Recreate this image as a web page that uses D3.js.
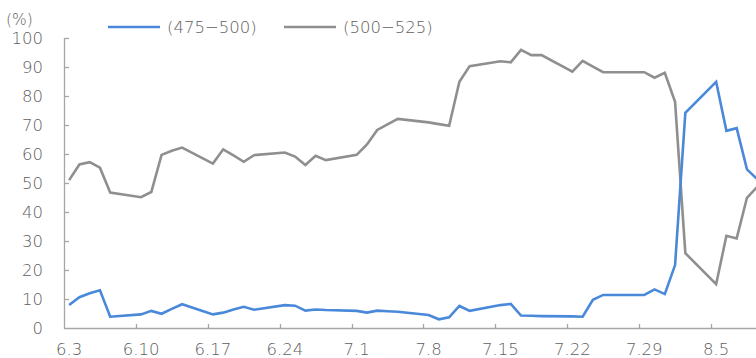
<!DOCTYPE html>
<html>
<head>
<meta charset="utf-8">
<script src="https://cdn.jsdelivr.net/npm/d3@7"></script>
<style>
html,body{margin:0;padding:0;background:#fff;}
svg{display:block;}
text{font-family:"DejaVu Sans",sans-serif;fill:#5e5e5e;font-weight:300;}
</style>
</head>
<body>
<svg id="chart" width="756" height="358"></svg>
<script>
const dates = ["6.3","6.4","6.5","6.6","6.7","6.10","6.11","6.12","6.13","6.14","6.17","6.18","6.19","6.20","6.21","6.24","6.25","6.26","6.27","6.28","7.1","7.2","7.3","7.4","7.5","7.8","7.9","7.10","7.11","7.12","7.15","7.16","7.17","7.18","7.19","7.22","7.23","7.24","7.25","7.26","7.29","7.30","7.31","8.1","8.2","8.5","8.6","8.7","8.8","8.9"];
const seriesA = [7.9,10.6,12.0,13.0,3.9, 4.7,5.9,4.9,6.6,8.2, 4.7,5.3,6.4,7.3,6.3, 7.9,7.7,6.0,6.4,6.2, 5.9,5.3,6.0,5.8,5.6, 4.5,3.0,3.7,7.6,5.9, 7.9,8.3,4.3,4.2,4.1, 4.0,3.9,9.7,11.4,11.4, 11.4,13.3,11.7,21.7,74.2, 84.9,68.0,68.9,54.7,51.3];
const seriesB = [51.0,56.4,57.2,55.3,46.7, 45.1,46.9,59.7,61.1,62.2, 56.7,61.6,59.5,57.3,59.6, 60.5,59.1,56.2,59.4,57.9, 59.7,63.3,68.3,70.2,72.1, 70.9,70.3,69.7,84.9,90.3, 92.0,91.6,95.9,94.1,94.1, 88.4,92.1,90.1,88.2,88.2, 88.2,86.3,88.0,78.0,25.8, 15.1,31.8,30.9,44.9,48.7];
const seriesNames = ["(475−500)","(500−525)"];
const seriesColors = ["#4a89d9","#8f8f8f"];
const yTicks = [0,10,20,30,40,50,60,70,80,90,100];
const yUnit = "(%)";
const year = 2019;

const svg = d3.select("#chart");
const parse = s => { const [m,d] = s.split(".").map(Number); return new Date(year, m-1, d); };
const start = parse(dates[0]);
const end = d3.timeDay.offset(start, 68);
const left = 64, plotTop = 38, plotBottom = 328;
const x = d3.scaleTime().domain([start, end]).range([left, left + 68*10.27]);
const y = d3.scaleLinear().domain([0,100]).range([plotBottom, plotTop]);
const mid = s => d3.timeHour.offset(parse(s), 12);

// x axis
const xTickDates = d3.timeMonday.range(start, end);
const xg = svg.append("g");
xg.append("line").attr("x1", left).attr("x2", 756).attr("y1", plotBottom+0.5).attr("y2", plotBottom+0.5)
  .attr("stroke","#a6a6a6").attr("stroke-width",1.3);
xg.selectAll("line.t").data(xTickDates.slice(1)).enter().append("line").attr("class","t")
  .attr("x1", d=>Math.round(x(d))+0.5).attr("x2", d=>Math.round(x(d))+0.5)
  .attr("y1", plotBottom-4).attr("y2", plotBottom)
  .attr("stroke","#a6a6a6").attr("stroke-width",1.3);
xg.selectAll("text").data(xTickDates).enter().append("text")
  .attr("x", d=>x(d3.timeHour.offset(d,12))).attr("y", 355)
  .attr("text-anchor","middle").attr("font-size","16.5px")
  .text(d=>(d.getMonth()+1)+"."+d.getDate());

// y axis
const yg = svg.append("g");
yg.append("line").attr("x1", left+0.5).attr("x2", left+0.5).attr("y1", plotTop).attr("y2", plotBottom+1)
  .attr("stroke","#a6a6a6").attr("stroke-width",1.3);
yg.selectAll("line.t").data(yTicks.slice(1)).enter().append("line").attr("class","t")
  .attr("x1", left).attr("x2", left+5)
  .attr("y1", d=>Math.round(y(d))+0.5).attr("y2", d=>Math.round(y(d))+0.5)
  .attr("stroke","#a6a6a6").attr("stroke-width",1.3);
yg.selectAll("text").data(yTicks).enter().append("text")
  .attr("x", 43).attr("y", d=>y(d)).attr("dy","0.36em")
  .attr("text-anchor","end").attr("font-size","16.5px").text(d=>d);
svg.append("text").attr("x", 6).attr("y", 25).attr("font-size","15.5px").text(yUnit);

// lines
const line = d3.line().x((d,i)=>x(mid(dates[i]))).y(d=>y(d));
[seriesB, seriesA].forEach((s,k)=>{
  const idx = k===0 ? 1 : 0;
  svg.append("path").datum(s).attr("d", line).attr("fill","none")
    .attr("stroke", seriesColors[idx]).attr("stroke-width",2.6).attr("stroke-linejoin","miter");
});

// legend
const legX = [108, 284];
seriesNames.forEach((n,i)=>{
  svg.append("line").attr("x1", legX[i]).attr("x2", legX[i]+52).attr("y1", 27).attr("y2", 27)
    .attr("stroke", seriesColors[i]).attr("stroke-width",2.6);
  svg.append("text").attr("x", legX[i]+59).attr("y", 27).attr("dy","0.36em")
    .attr("font-size","16.5px").text(n);
});
</script>
</body>
</html>
